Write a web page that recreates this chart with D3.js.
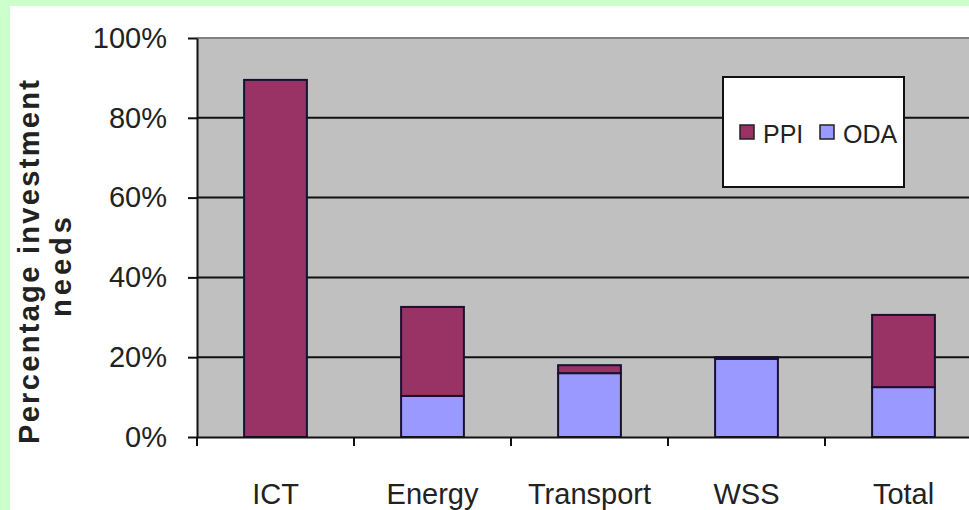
<!DOCTYPE html>
<html>
<head>
<meta charset="utf-8">
<script src="https://cdn.jsdelivr.net/npm/d3@7"></script>
<style>
  html, body { margin: 0; padding: 0; background: #ffffff; }
  svg { display: block; }
  text { font-family: "Liberation Sans", Arial, sans-serif; }
</style>
</head>
<body>
<svg id="chart" width="969" height="510"></svg>
<script>
// Share of infrastructure investment needs covered by PPI and ODA
const categories = ["ICT", "Energy", "Transport", "WSS", "Total"];
const ppiValues = [89.5, 22.3, 2.0, 0.4, 18.1];
const odaValues = [0.0, 10.3, 16.0, 19.6, 12.5];
const yTicks = [0, 20, 40, 60, 80, 100];
const seriesNames = ["PPI", "ODA"];
const seriesColors = { PPI: "#993366", ODA: "#9999ff" };

const rows = categories.map((c, i) => ({ cat: c, PPI: ppiValues[i], ODA: odaValues[i] }));

const svg = d3.select("#chart");
const W = 969, H = 510;

// page frame: white canvas with a pale green band along the top and left
svg.append("rect").attr("width", W).attr("height", H).attr("fill", "#ffffff");
svg.append("rect").attr("x", 0).attr("y", 0).attr("width", W).attr("height", 6).attr("fill", "#ccffcc");
svg.append("rect").attr("x", 0).attr("y", 0).attr("width", 10).attr("height", H).attr("fill", "#ccffcc");

const plot = { left: 197, right: 982, top: 38, bottom: 437 };

const y = d3.scaleLinear().domain([0, 100]).range([plot.bottom, plot.top]);
const x = d3.scaleBand().domain(categories).range([plot.left, plot.right])
  .paddingInner(0.6).paddingOuter(0.3);

// plot area
svg.append("rect")
  .attr("x", plot.left).attr("y", plot.top)
  .attr("width", plot.right - plot.left).attr("height", plot.bottom - plot.top)
  .attr("fill", "#c0c0c0");
svg.append("line")
  .attr("x1", plot.left).attr("x2", plot.right)
  .attr("y1", y(100)).attr("y2", y(100))
  .attr("stroke", "#808080").attr("stroke-width", 2);

// horizontal gridlines
svg.append("g").selectAll("line")
  .data(yTicks.filter(t => t > 0 && t < 100))
  .join("line")
  .attr("x1", plot.left).attr("x2", plot.right)
  .attr("y1", d => y(d)).attr("y2", d => y(d))
  .attr("stroke", "#111").attr("stroke-width", 2);

// stacked bars, ODA at the base and PPI on top
const stack = d3.stack().keys(["ODA", "PPI"]);
const layers = stack(rows);
svg.append("g").selectAll("g")
  .data(layers)
  .join("g")
  .attr("fill", d => seriesColors[d.key])
  .selectAll("rect")
  .data(d => d.filter(p => p[1] - p[0] > 0))
  .join("rect")
  .attr("x", d => x(d.data.cat))
  .attr("width", x.bandwidth())
  .attr("y", d => y(d[1]))
  .attr("height", d => y(d[0]) - y(d[1]))
  .attr("stroke", "#1a1030").attr("stroke-width", 2);

// y axis
const yAxis = svg.append("g")
  .attr("transform", `translate(${plot.left},0)`)
  .call(d3.axisLeft(y).tickValues(yTicks).tickFormat(d => d + "%")
    .tickSize(9).tickSizeOuter(0).tickPadding(21));
yAxis.select(".domain").attr("stroke", "#111").attr("stroke-width", 2);
yAxis.selectAll(".tick line").attr("stroke", "#111").attr("stroke-width", 2);
yAxis.selectAll(".tick text")
  .attr("font-size", 29).attr("fill", "#222").attr("font-family", "Liberation Sans, Arial, sans-serif");

// x axis: labels centred under bars, tick marks between categories
const xAxis = svg.append("g")
  .attr("transform", `translate(0,${plot.bottom})`)
  .call(d3.axisBottom(x).tickSize(0).tickPadding(46).tickSizeOuter(0));
xAxis.select(".domain").attr("stroke", "#111").attr("stroke-width", 2);
xAxis.selectAll(".tick text")
  .attr("font-size", 29).attr("fill", "#222").attr("font-family", "Liberation Sans, Arial, sans-serif");

const gap = (x.step() - x.bandwidth()) / 2;
const boundaries = categories.map(c => x(c) - gap);
svg.append("g").selectAll("line")
  .data(boundaries)
  .join("line")
  .attr("x1", d => d).attr("x2", d => d)
  .attr("y1", plot.bottom).attr("y2", plot.bottom + 9)
  .attr("stroke", "#111").attr("stroke-width", 2);

// y axis title, two lines
const title = svg.append("g").attr("font-weight", "bold").attr("fill", "#222")
  .attr("font-size", 29).attr("text-anchor", "middle");
title.append("text")
  .attr("transform", "translate(39,262) rotate(-90)")
  .attr("textLength", 364).attr("lengthAdjust", "spacing")
  .text("Percentage investment");
title.append("text")
  .attr("transform", "translate(71,267) rotate(-90)")
  .attr("textLength", 100).attr("lengthAdjust", "spacing")
  .text("needs");

// legend
const legend = svg.append("g");
legend.append("rect")
  .attr("x", 723).attr("y", 77).attr("width", 181).attr("height", 110)
  .attr("fill", "#ffffff").attr("stroke", "#111").attr("stroke-width", 2);
const legendPos = { PPI: 740, ODA: 820 };
const items = legend.selectAll("g.item").data(seriesNames).join("g").attr("class", "item");
items.append("rect")
  .attr("x", d => legendPos[d]).attr("y", 125).attr("width", 14).attr("height", 14)
  .attr("fill", d => seriesColors[d]).attr("stroke", "#222").attr("stroke-width", 1.5);
items.append("text")
  .attr("x", d => legendPos[d] + 23).attr("y", 143)
  .attr("font-size", 25).attr("fill", "#222")
  .text(d => d);
</script>
</body>
</html>
